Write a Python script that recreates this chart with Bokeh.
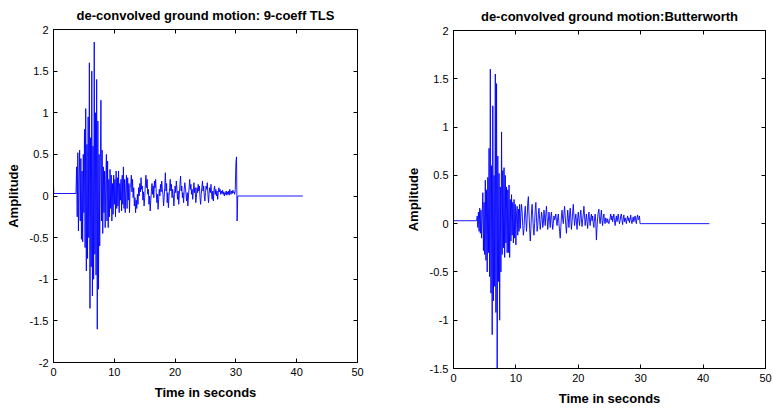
from bokeh.plotting import figure
from bokeh.layouts import row, column
from bokeh.models import LinearAxis, Range1d, FixedTicker
from bokeh.embed import file_html
from bokeh.resources import INLINE
import numpy as np

# ---------------- data ----------------
x_ticks = [0, 10, 20, 30, 40, 50]
x_tick_labels = ["0", "10", "20", "30", "40", "50"]
tls_y_ticks = [-2, -1.5, -1, -0.5, 0, 0.5, 1, 1.5, 2]
tls_y_tick_labels = ["-2", "-1.5", "-1", "-0.5", "0", "0.5", "1", "1.5", "2"]
bw_y_ticks = [-1.5, -1, -0.5, 0, 0.5, 1, 1.5, 2]
bw_y_tick_labels = ["-1.5", "-1", "-0.5", "0", "0.5", "1", "1.5", "2"]

sample_start = 3.7   # seconds, first sample of the active part
sample_step = 0.1    # seconds between samples

# 9-coeff TLS: quiet lead-in, active record, quiet tail
tls_pre_time = [0.0, 0.0, 0.05]
tls_pre_amp = [-0.15, 0.15, 0.03]
tls_amp = [
    0.03, 0.35, -0.25, 0.52, -0.42, 0.2, 0.55, -0.3, 0.45, -0.52,
    0.3, -0.55, 0.5, -0.2, 0.8, -0.62, 1.05, -0.9, 0.62, -0.75,
    0.95, -0.5, 1.6, -1.35, 0.7, -0.85, 1.5, -1.2, 0.6, -1.0,
    1.85, -0.7, 1.0, -0.95, 1.4, -1.6, 0.9, -1.12, 0.5, -0.6,
    0.4, 1.15, -0.3, 0.55, -0.45, 0.35, -0.2, 0.3, -0.38, 0.2,
    0.5, -0.3, 0.42, -0.38, 0.2, -0.25, 0.32, -0.15, 0.25, -0.3,
    0.15, -0.22, 0.25, -0.1, 0.2, -0.25, 0.3, -0.15, 0.22, -0.12,
    0.3, -0.2, 0.15, -0.05, 0.2, -0.18, 0.25, -0.1, 0.35, -0.15,
    0.2, -0.2, 0.1, 0.25, -0.15, 0.22, -0.05, 0.15, -0.2, 0.12,
    0.12, 0.25, 0.05, 0.2, -0.02, 0.1, -0.12, -0.02, -0.2, -0.05,
    -0.15, 0.02, -0.1, 0.1, 0.0, 0.15, 0.05, 0.22, 0.08, 0.12,
    -0.05, 0.05, -0.12, -0.02, 0.12, 0.25, 0.1, 0.2, 0.02, 0.08,
    -0.1, 0.0, -0.18, -0.05, 0.05, 0.15, 0.02, 0.12, -0.02, 0.18,
    0.1, 0.2, 0.04, -0.08, 0.02, -0.16, -0.04, 0.08, 0.0, 0.14,
    0.05, 0.18, 0.08, 0.02, -0.12, -0.02, 0.1, 0.28, 0.06, 0.15,
    -0.08, 0.04, -0.14, 0.0, 0.1, 0.2, 0.06, 0.14, -0.02, 0.08,
    0.0, -0.12, 0.02, 0.12, 0.04, 0.18, 0.08, -0.04, 0.06, -0.1,
    0.02, 0.14, 0.24, 0.06, 0.12, -0.02, 0.04, -0.08, 0.08, 0.16,
    0.1, 0.02, -0.06, 0.04, -0.12, 0.0, 0.1, 0.2, 0.08, 0.14,
    0.02, 0.08, -0.04, 0.06, 0.16, 0.04, 0.1, -0.08, -0.02, 0.1,
    0.04, 0.14, 0.06, 0.12, -0.02, -0.1, 0.02, 0.1, 0.18, 0.06,
    0.12, 0.0, -0.06, 0.04, 0.12, 0.08, 0.16, 0.02, -0.08, 0.04,
    0.1, 0.04, 0.14, 0.02, -0.04, 0.06, -0.06, 0.08, 0.12, 0.02,
    0.08, 0.0, 0.06, -0.04, 0.04, 0.1, 0.05, 0.08, 0.02, 0.06,
    0.03, 0.07, 0.02, 0.05, 0.0, 0.04, 0.02, 0.06, 0.01, 0.05,
    0.02, 0.06, 0.01, 0.08, 0.04, 0.02, 0.06, 0.03, 0.07, 0.04,
    0.05, 0.02, 0.08, 0.4, 0.47, -0.3, 0.0,
]
tls_post_time = [41.0]
tls_post_amp = [0.0]

# Butterworth
bw_pre_time = [0.0]
bw_pre_amp = [0.03]
bw_amp = [
    0.03, 0.08, -0.04, 0.12, -0.08, 0.16, -0.1, 0.14, -0.15, 0.1,
    0.32, -0.28, 0.22, -0.32, 0.45, -0.38, 0.35, -0.5, 0.48, -0.3,
    0.78, -0.55, 1.6, -0.72, 0.6, -1.15, 1.22, -0.8, 0.5, -0.65,
    1.55, -0.92, 1.45, -1.5, 0.7, -0.6, 0.52, -1.0, 0.38, -0.5,
    0.95, -0.32, 0.55, -0.25, 0.58, -0.35, 0.5, -0.2, 0.38, -0.3,
    0.35, -0.3, 0.4, -0.35, 0.25, -0.18, 0.3, -0.12, 0.22, -0.2,
    0.25, -0.15, 0.2, -0.22, 0.1, 0.18, -0.12, 0.15, -0.08, 0.2,
    -0.05, 0.1, 0.2, 0.12, -0.02, -0.12, -0.05, 0.1, 0.18, 0.05,
    -0.08, 0.05, 0.22, 0.28, 0.1, -0.05, -0.18, -0.06, 0.12, 0.2,
    0.08, -0.06, -0.12, 0.0, 0.15, 0.22, 0.06, -0.08, -0.02, 0.1,
    0.16, 0.04, -0.06, 0.02, 0.12, 0.08, -0.04, 0.0, 0.14, 0.06,
    -0.02, 0.1, 0.18, 0.06, -0.06, 0.02, 0.12, 0.04, -0.04, 0.08,
    0.12, 0.02, -0.06, 0.0, 0.08, 0.04, 0.06, 0.1, 0.02, -0.02,
    0.06, 0.1, 0.0, -0.08, -0.15, -0.04, 0.08, 0.14, 0.04, 0.0,
    0.1, 0.18, 0.08, -0.02, -0.1, 0.02, 0.14, 0.06, -0.04, 0.08,
    0.16, 0.06, -0.06, 0.02, 0.12, 0.2, 0.08, -0.02, 0.04, 0.1,
    0.02, -0.06, 0.06, 0.12, 0.04, -0.02, 0.08, 0.14, 0.05, -0.03,
    0.04, 0.1, 0.18, 0.08, -0.02, 0.04, 0.1, 0.02, -0.05, 0.06,
    0.12, 0.04, -0.02, 0.06, 0.1, 0.03, 0.08, 0.0, -0.04, 0.05,
    0.1, 0.02, -0.17, -0.04, 0.06, 0.12, 0.15, 0.04, 0.0, 0.07,
    0.14, 0.04, -0.02, 0.06, 0.1, 0.02, 0.0, 0.06, 0.03, 0.01,
    0.05, 0.02, 0.0, 0.03, 0.06, 0.1, 0.04, 0.08, 0.02, 0.06,
    0.1, 0.03, -0.02, 0.04, 0.08, 0.02, 0.06, 0.1, 0.04, 0.0,
    0.03, 0.08, 0.1, 0.04, -0.01, 0.05, 0.09, 0.02, 0.06, 0.03,
    0.0, 0.05, 0.08, 0.03, 0.06, 0.01, 0.04, 0.09, 0.03, 0.0,
    0.04, 0.07, 0.02, 0.05, 0.08, 0.03, 0.0, 0.06, 0.09, 0.04,
    0.05, 0.08, 0.0,
]
bw_post_time = [30.1, 41.0]
bw_post_amp = [0.0, 0.0]

FONT = "Liberation Sans"
BLUE = "#0000ff"


def build_series(pre_t, pre_a, amp, post_t, post_a):
    t_act = sample_start + sample_step * np.arange(len(amp))
    t = list(pre_t) + list(t_act) + list(post_t)
    a = list(pre_a) + list(amp) + list(post_a)
    return t, a


def make_panel(title, t, a, y_lo, y_hi, yticks, ylabels, w, h, ml, mr, mt, mb):
    p = figure(width=w, height=h, output_backend="svg", toolbar_location=None,
               x_range=Range1d(0, 50), y_range=Range1d(y_lo, y_hi),
               min_border_left=ml, min_border_right=mr,
               min_border_top=mt, min_border_bottom=mb,
               background_fill_color="white", border_fill_color="white")
    p.line(t, a, color=BLUE, line_width=1, line_alpha=0.9)
    p.xgrid.visible = False
    p.ygrid.visible = False
    p.outline_line_color = "black"
    p.outline_line_width = 1

    p.title.text = title
    p.title.align = "center"
    p.title.vertical_align = "top"
    p.title.text_font = FONT
    p.title.text_font_size = "13px"
    p.title.text_font_style = "bold"
    p.title.text_color = "black"

    xover = {v: s for v, s in zip(x_ticks, x_tick_labels)}
    yover = {v: s for v, s in zip(yticks, ylabels)}

    for ax in p.xaxis:
        ax.ticker = FixedTicker(ticks=x_ticks)
        ax.major_label_overrides = xover
        ax.axis_label = "Time in seconds"
    for ax in p.yaxis:
        ax.ticker = FixedTicker(ticks=yticks)
        ax.major_label_overrides = yover
        ax.axis_label = "Amplitude"
    for ax in list(p.xaxis) + list(p.yaxis):
        ax.major_tick_in = 4
        ax.major_tick_out = 0
        ax.minor_tick_line_color = None
        ax.axis_line_color = "black"
        ax.major_tick_line_color = "black"
        ax.major_label_text_font = FONT
        ax.major_label_text_font_size = "11px"
        ax.major_label_text_color = "black"
        ax.axis_label_text_font = FONT
        ax.axis_label_text_font_size = "13px"
        ax.axis_label_text_font_style = "bold"
        ax.axis_label_text_color = "black"
        ax.major_label_standoff = 5
        ax.axis_label_standoff = 6

    top = LinearAxis(ticker=FixedTicker(ticks=x_ticks))
    right = LinearAxis(ticker=FixedTicker(ticks=yticks))
    for ax in (top, right):
        ax.major_tick_in = 4
        ax.major_tick_out = 0
        ax.minor_tick_line_color = None
        ax.axis_line_color = None
        ax.major_label_text_color = None
        ax.major_label_text_font_size = "1px"
        ax.major_label_standoff = 0
        ax.major_tick_line_color = "black"
    p.add_layout(top, "above")
    p.add_layout(right, "right")
    return p


t1, a1 = build_series(tls_pre_time, tls_pre_amp, tls_amp, tls_post_time, tls_post_amp)
t2, a2 = build_series(bw_pre_time, bw_pre_amp, bw_amp, bw_post_time, bw_post_amp)

p1 = make_panel("de-convolved ground motion: 9-coeff TLS", t1, a1, -2, 2,
                tls_y_ticks, tls_y_tick_labels, 390, 412, 53, 33, 29, 50)
p2 = make_panel("de-convolved ground motion:Butterworth", t2, a2, -1.5, 2,
                bw_y_ticks, bw_y_tick_labels, 383, 412, 63, 8, 30, 44)

layout = row(column(p1), column(p2))
open("out.html", "w").write(file_html(layout, INLINE))
